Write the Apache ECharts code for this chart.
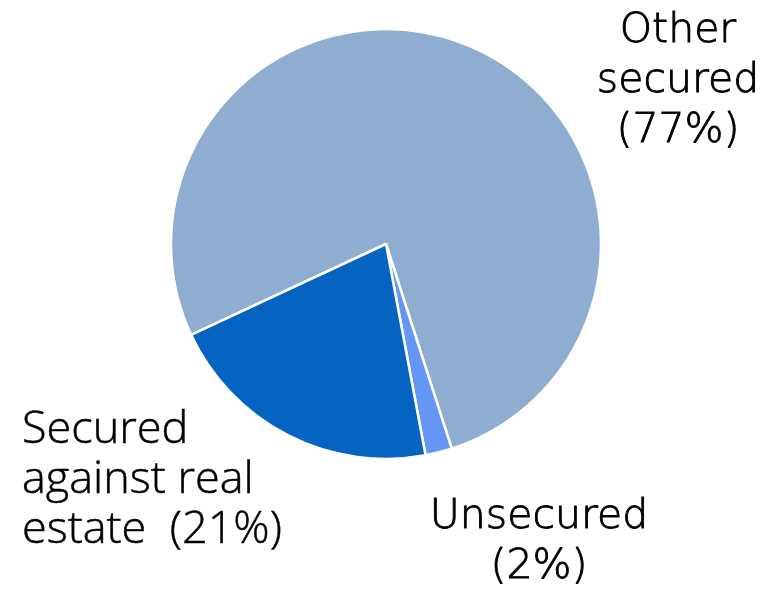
<!DOCTYPE html>
<html>
<head>
<meta charset="utf-8">
<script src="https://cdn.jsdelivr.net/npm/echarts@6/dist/echarts.min.js"></script>
<style>
  html, body { margin: 0; padding: 0; background: #ffffff; }
  #chart { width: 778px; height: 589px; }
</style>
</head>
<body>
<div id="chart"></div>
<script>
// Breakdown of lending by type of security (percent of total)
const categories = ['Other secured', 'Unsecured', 'Secured against real estate'];
const shares = [77, 2, 21];
const labelTexts = ['Other\nsecured\n(77%)', 'Unsecured\n(2%)', 'Secured\nagainst real\nestate  (21%)'];
const sliceColors = ['#8FADD1', '#6595F5', '#0563C1'];

// Where each label block is anchored and how it is aligned
const labelAnchors = [
  { x: 678, y: 6, align: 'center' },
  { x: 539, y: 492, align: 'center' },
  { x: 22, y: 405, align: 'left' }
];
const labelFonts = [
  { fontFamily: '"DejaVu Sans"', fontWeight: 200, fontSize: 41, textBorderColor: '#000', textBorderWidth: 0.9 },
  { fontFamily: '"DejaVu Sans"', fontWeight: 200, fontSize: 41, textBorderColor: '#000', textBorderWidth: 0.9 },
  { fontFamily: '"Open Sans"', fontWeight: 300, fontSize: 45, textBorderColor: '#000', textBorderWidth: 0.5 }
];

const chart = echarts.init(document.getElementById('chart'), null, { renderer: 'canvas' });

chart.setOption({
  animation: false,
  backgroundColor: '#ffffff',
  series: [{
    type: 'pie',
    center: [386, 244],
    radius: [0, 215],
    startAngle: 205,
    clockwise: true,
    avoidLabelOverlap: false,
    itemStyle: { borderColor: '#ffffff', borderWidth: 2.5 },
    label: {
      show: true,
      position: 'outside',
      color: '#000000',
      lineHeight: 50,
      formatter: p => labelTexts[p.dataIndex]
    },
    labelLine: { show: false },
    labelLayout: p => {
      const a = labelAnchors[p.dataIndex];
      return { x: a.x, y: a.y, align: a.align, verticalAlign: 'top', hideOverlap: false };
    },
    emphasis: { disabled: true },
    data: categories.map((name, i) => ({
      name: name,
      value: shares[i],
      itemStyle: { color: sliceColors[i] },
      label: labelFonts[i]
    }))
  }]
});
</script>
</body>
</html>
